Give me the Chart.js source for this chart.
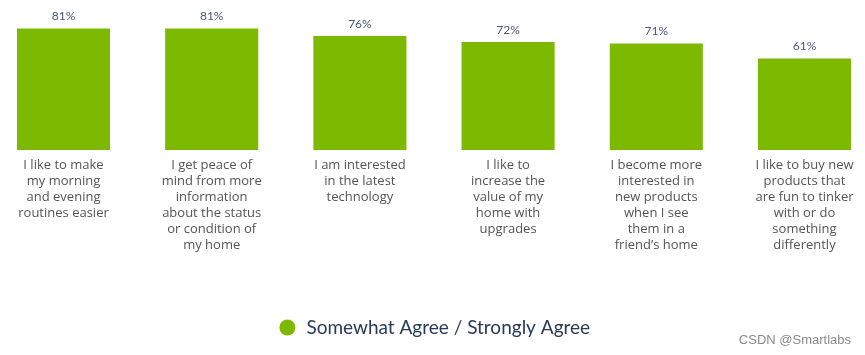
<!DOCTYPE html>
<html>
<head>
<meta charset="utf-8">
<script src="https://cdn.jsdelivr.net/npm/chart.js@4/dist/chart.umd.min.js"></script>
<style>
  html, body { margin: 0; padding: 0; background: #ffffff; }
  #wrap { width: 865px; height: 355px; position: relative; }
</style>
</head>
<body>
<div id="wrap"><canvas id="c" width="865" height="355"></canvas></div>
<script>
const categories = [
  ["I like to make", "my morning", "and evening", "routines easier"],
  ["I get peace of", "mind from more", "information", "about the status", "or condition of", "my home"],
  ["I am interested", "in the latest", "technology"],
  ["I like to", "increase the", "value of my", "home with", "upgrades"],
  ["I become more", "interested in", "new products", "when I see", "them in a", "friend\u2019s home"],
  ["I like to buy new", "products that", "are fun to tinker", "with or do", "something", "differently"]
];
const seriesName = "Somewhat Agree / Strongly Agree";
const agreeValues = [81, 81, 76, 72, 71, 61];
const watermark = "CSDN @Smartlabs";

const valueLabels = {
  id: 'valueLabels',
  afterDatasetsDraw(chart) {
    const ctx = chart.ctx;
    const meta = chart.getDatasetMeta(0);
    ctx.save();
    ctx.font = '12px Lato, "Open Sans", sans-serif';
    ctx.fillStyle = '#4a5878';
    ctx.textAlign = 'center';
    ctx.textBaseline = 'middle';
    meta.data.forEach((bar, i) => {
      ctx.fillText(agreeValues[i] + '%', bar.x, bar.y - 12);
    });
    ctx.restore();
  }
};

const watermarkPlugin = {
  id: 'watermark',
  afterDraw(chart) {
    const ctx = chart.ctx;
    ctx.save();
    ctx.font = '13px "Liberation Sans", Arial, sans-serif';
    ctx.fillStyle = '#8a8a8a';
    ctx.textAlign = 'right';
    ctx.textBaseline = 'middle';
    ctx.fillText(watermark, chart.width - 14, 340);
    ctx.restore();
  }
};

new Chart(document.getElementById('c'), {
  type: 'bar',
  data: {
    labels: categories,
    datasets: [{
      label: seriesName,
      data: agreeValues,
      backgroundColor: '#7cb900',
      borderWidth: 0,
      clip: false,
      categoryPercentage: 1,
      barPercentage: 0.628
    }]
  },
  options: {
    responsive: false,
    animation: false,
    layout: { padding: { left: 63.5, right: 60.5, top: 0, bottom: 8 } },
    scales: {
      x: {
        offset: false,
        grid: { display: false, drawTicks: false },
        border: { display: false },
        ticks: {
          autoSkip: false,
          maxRotation: 0,
          minRotation: 0,
          padding: 7,
          color: '#555555',
          font: { family: '"Open Sans", sans-serif', size: 13, lineHeight: 1.23 }
        },
        afterFit(scale) { scale.height = 158; }
      },
      y: {
        display: false,
        min: 0,
        max: 100
      }
    },
    plugins: {
      legend: {
        position: 'bottom',
        labels: {
          usePointStyle: true,
          pointStyle: 'circle',
          boxWidth: 19,
          boxHeight: 11.3,
          padding: 10,
          color: '#2b3a57',
          font: { family: 'Lato, sans-serif', size: 19 }
        }
      },
      tooltip: { enabled: false }
    }
  },
  plugins: [valueLabels, watermarkPlugin]
});
</script>
</body>
</html>
